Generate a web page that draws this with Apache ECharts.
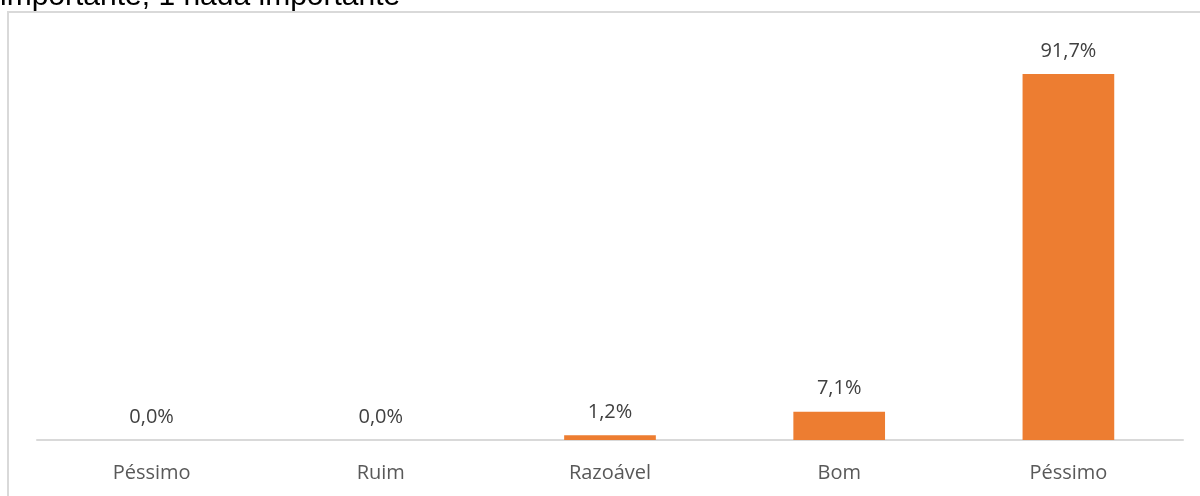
<!DOCTYPE html>
<html>
<head>
<meta charset="utf-8">
<script src="https://cdn.jsdelivr.net/npm/echarts@6/dist/echarts.min.js"></script>
<style>
html,body{margin:0;padding:0;background:#fff;}
#chart{width:1200px;height:496px;}
</style>
</head>
<body>
<div id="chart"></div>
<script>
const categories = ['Péssimo', 'Ruim', 'Razoável', 'Bom', 'Péssimo'];
const values = [0.0, 0.0, 1.2, 7.1, 91.7];
const titleText = 'importante; 1 nada importante';

const chart = echarts.init(document.getElementById('chart'));
chart.setOption({
  animation: false,
  backgroundColor: '#ffffff',
  graphic: [
    {
      type: 'rect',
      shape: { x: 8, y: 12, width: 1300, height: 600 },
      style: { fill: 'none', stroke: '#d9d9d9', lineWidth: 2 },
      z: 0
    },
    {
      type: 'text',
      x: 0,
      y: 12,
      style: {
        text: titleText,
        font: '30px "Liberation Sans", Arial, sans-serif',
        fill: '#000000',
        verticalAlign: 'bottom',
        align: 'left'
      },
      z: 1
    }
  ],
  grid: { left: 37, right: 17, top: 41, bottom: 56, containLabel: false },
  xAxis: {
    type: 'category',
    data: categories,
    axisLine: { show: true, lineStyle: { color: '#d9d9d9', width: 2 } },
    axisTick: { show: false },
    axisLabel: {
      color: '#595959',
      fontSize: 20,
      fontFamily: '"Open Sans", sans-serif',
      margin: 23
    },
    splitLine: { show: false }
  },
  yAxis: {
    type: 'value',
    min: 0,
    max: 100,
    show: false,
    splitLine: { show: false }
  },
  series: [{
    type: 'bar',
    data: values,
    barWidth: '40%',
    itemStyle: { color: '#ED7D31' },
    label: {
      show: true,
      position: 'top',
      distance: 13,
      color: '#404040',
      fontSize: 20,
      fontFamily: '"Open Sans", sans-serif',
      formatter: p => p.value.toFixed(1).replace('.', ',') + '%'
    }
  }]
});
</script>
</body>
</html>
